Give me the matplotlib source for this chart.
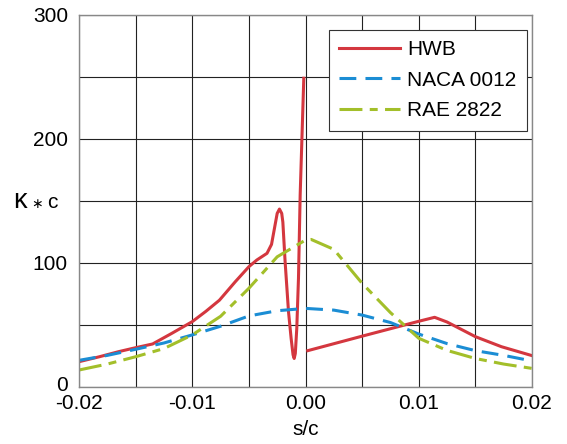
import matplotlib
matplotlib.use("Agg")
import matplotlib.pyplot as plt
import matplotlib.transforms as mtransforms
from matplotlib.ticker import MultipleLocator, FixedLocator

plt.rcParams['font.family'] = ['Liberation Sans', 'DejaVu Sans']

# HWB (two segments)
hwb1_x = [-0.02, -0.0182, -0.0165, -0.015, -0.0135, -0.0118, -0.01, -0.0088, -0.0076, -0.0062,
          -0.005, -0.0043, -0.0034, -0.0030, -0.0027, -0.0025, -0.0023, -0.0021, -0.0020,
          -0.0018, -0.0015, -0.00127, -0.0011, -0.0010, -0.0009, -0.00077, -0.00062,
          -0.00047, -0.00015]
hwb1_y = [20.4, 24.4, 28.5, 31.7, 34.7, 43.3, 52.7, 61.0, 70.0, 84.9,
          97.0, 102.4, 107.8, 115, 130, 140, 143.5, 140, 133,
          101, 60.7, 39.3, 26, 23, 27, 47.3, 87.7,
          155, 249]
hwb2_x = [0.0002, 0.005, 0.01, 0.0114, 0.0125, 0.015, 0.0173, 0.02]
hwb2_y = [29.3, 41.0, 53.0, 56.2, 52.4, 40.6, 32.5, 25.3]

# NACA 0012
naca_x = [-0.02, -0.0175, -0.015, -0.0125, -0.01, -0.0075, -0.005, -0.0025, 0.0,
          0.0025, 0.005, 0.0075, 0.01, 0.0125, 0.015, 0.0175, 0.02]
naca_y = [21.5, 25.5, 30.4, 35.5, 42.0, 49.0, 57.3, 61.5, 63.4,
          62.0, 58.0, 52.0, 42.7, 35.0, 29.3, 25.5, 21.0]

# RAE 2822
rae_x = [-0.02, -0.0175, -0.015, -0.0125, -0.01, -0.0075, -0.005, -0.0025, 0.0, 0.0005,
         0.0025, 0.005, 0.0075, 0.01, 0.0125, 0.015, 0.0175, 0.02]
rae_y = [13.7, 18.5, 24.4, 31.0, 42.0, 57.0, 79.6, 105.0, 118.5, 119.0,
         111.0, 83.6, 60.0, 39.3, 29.5, 23.0, 18.5, 15.0]

x_ticks = [-0.02, -0.01, 0.00, 0.01, 0.02]
x_labels = ['-0.02', '-0.01', '0.00', '0.01', '0.02']
y_ticks = [0, 100, 200, 300]
y_labels = ['0', '100', '200', '300']

red = '#d4373f'
blue = '#1b8dd4'
green = '#a3bf2a'

FS = 15

fig = plt.figure(figsize=(5.67, 4.44), dpi=100)
ax = fig.add_axes([79/567, 57/444, 453/567, 372/444])

lw = 2.2
l1, = ax.plot(hwb1_x, hwb1_y, color=red, lw=lw, label='HWB', solid_joinstyle='round')
ax.plot(hwb2_x, hwb2_y, color=red, lw=lw, solid_joinstyle='round')
l2, = ax.plot(naca_x, naca_y, color=blue, lw=lw, dashes=(5.5, 3), label='NACA 0012')
l3, = ax.plot(rae_x, rae_y, color=green, lw=lw, dashes=(7.5, 2.4, 2.6, 2.4), label='RAE 2822')

ax.set_xlim(-0.02, 0.02)
ax.set_ylim(0, 300)
ax.xaxis.set_major_locator(FixedLocator(x_ticks))
ax.set_xticklabels(x_labels)
ax.yaxis.set_major_locator(FixedLocator(y_ticks))
ax.set_yticklabels(y_labels)
ax.xaxis.set_minor_locator(MultipleLocator(0.005))
ax.yaxis.set_minor_locator(MultipleLocator(50))
ax.grid(which='both', color='#222222', lw=0.8)
ax.set_axisbelow(True)
ax.tick_params(which='both', length=0, labelsize=FS)
ax.tick_params(axis='x', pad=5)
ax.tick_params(axis='y', pad=8)
for s in ax.spines.values():
    s.set_color('#888888')
    s.set_linewidth(1.0)

# lift the "0" label slightly, as in the reference
zero_lab = ax.get_yticklabels()[0]
zero_lab.set_transform(zero_lab.get_transform() +
                       mtransforms.ScaledTranslation(0, 4/100, fig.dpi_scale_trans))

ax.set_xlabel('s/c', fontsize=FS, labelpad=5)

# y label "κ * c" composed from pieces
yb = 1 - 208.5/444
fig.text(20/567, yb, 'κ', fontsize=19.5, ha='center', va='baseline')
fig.text(37/567, yb, '∗', fontsize=10, ha='center', va='baseline', family='DejaVu Sans')
fig.text(52/567, yb, 'c', fontsize=FS, ha='center', va='baseline')

leg = ax.legend(handles=[l1, l2, l3], loc='upper right', bbox_to_anchor=(0.989, 0.96),
                borderaxespad=0, fontsize=FS, handlelength=2.9, handletextpad=0.37,
                labelspacing=0.55, borderpad=0.5, fancybox=False, framealpha=1,
                edgecolor='#333333')
leg.get_frame().set_linewidth(0.8)

fig.savefig('out.png', dpi=100)
